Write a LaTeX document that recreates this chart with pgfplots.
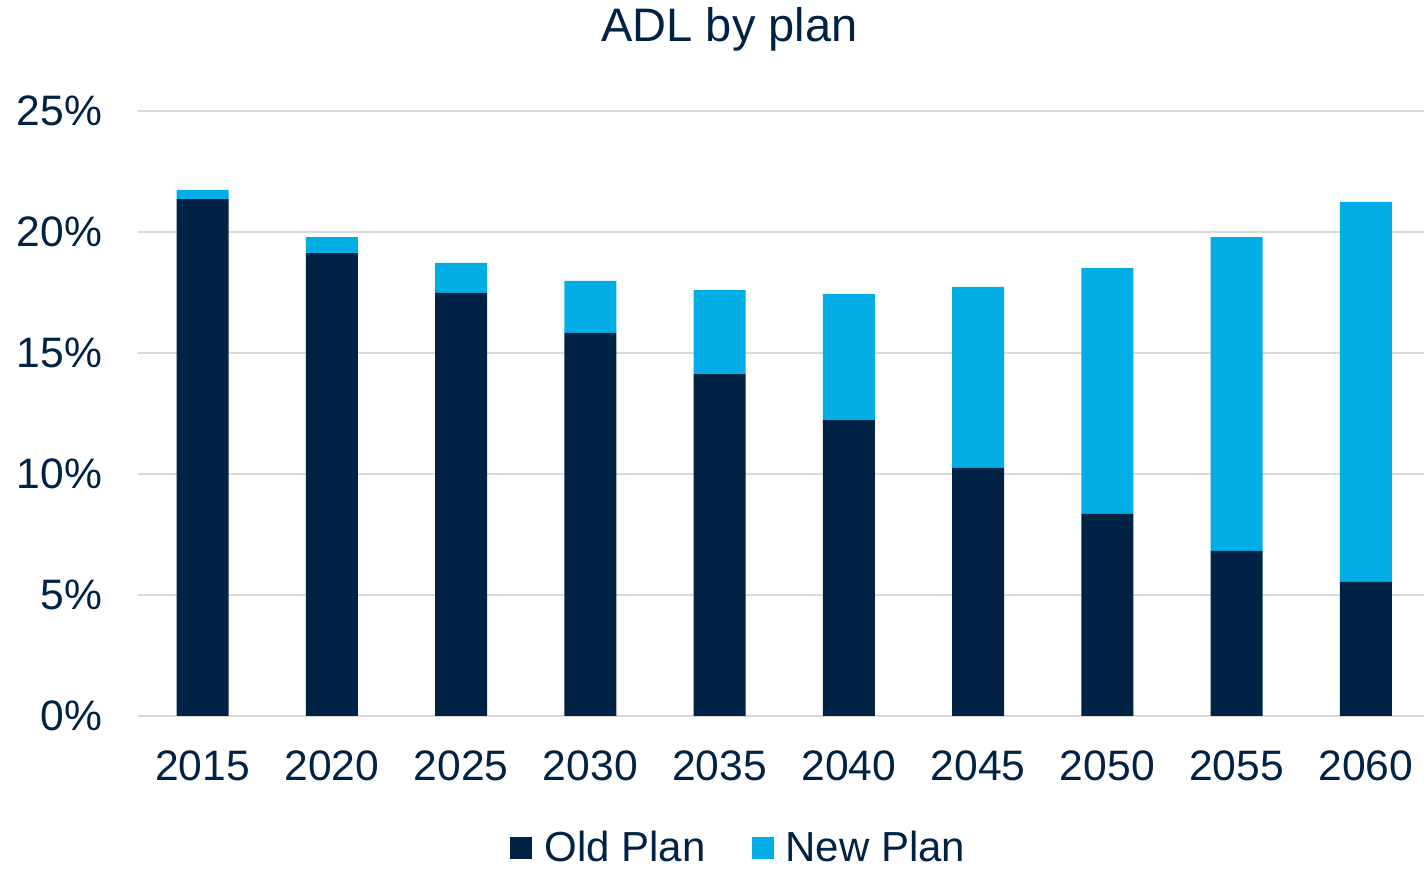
\documentclass[border=0pt]{standalone}
\usepackage{fontspec}
\setmainfont{Liberation Sans}
\usepackage{pgfplots}
\pgfplotsset{compat=1.18}
\definecolor{navy}{RGB}{0,34,68}
\definecolor{sky}{RGB}{0,174,229}
\definecolor{gridgray}{RGB}{217,217,217}
\begin{document}
\begin{tikzpicture}
\useasboundingbox (0pt,0pt) rectangle (712pt,435pt);
\begin{axis}[
  at={(69pt,77pt)}, anchor=south west,
  width=643pt, height=302.5pt, scale only axis,
  ybar stacked, bar width=26pt,
  xmin=-0.5, xmax=9.45, ymin=0, ymax=25,
  xtick=data,
  xticklabels={2015,2020,2025,2030,2035,2040,2045,2050,2055,2060},
  ytick={0,5,10,15,20,25},
  yticklabel={\pgfmathprintnumber{\tick}\%},
  /pgf/number format/assume math mode=true,
  ymajorgrids, grid style={gridgray, line width=0.8pt},
  axis x line*=bottom, axis y line*=left,
  y axis line style={draw=none},
  x axis line style={gridgray, line width=0.8pt, -},
  major tick length=0pt,
  tick label style={font=\fontsize{21.3}{25}\selectfont, text=navy},
  yticklabel style={anchor=east, xshift=-14.5pt},
  xticklabel style={yshift=-14pt},
  title={ADL by plan},
  title style={font=\fontsize{23.5}{28}\selectfont, text=navy, at={(0.46,1.115)}, anchor=center},
  legend style={draw=none, font=\fontsize{21}{25}\selectfont, text=navy, inner sep=1pt,
    at={(0.468,-0.218)}, anchor=center, legend columns=2,
    /tikz/every odd column/.append style={column sep=4pt},
    /tikz/every even column/.append style={column sep=21pt}},
  legend image code/.code={\fill[#1] (0pt,-5.5pt) rectangle (11pt,5.5pt);},
]
\addplot[fill=navy, draw=none] coordinates {(0,21.36) (1,19.13) (2,17.48) (3,15.83) (4,14.13) (5,12.23) (6,10.25) (7,8.35) (8,6.82) (9,5.54)};
\addplot[fill=sky, draw=none] coordinates {(0,0.38) (1,0.66) (2,1.24) (3,2.15) (4,3.47) (5,5.21) (6,7.48) (7,10.16) (8,12.97) (9,15.70)};
\legend{Old Plan, New Plan}
\end{axis}
\end{tikzpicture}
\end{document}
